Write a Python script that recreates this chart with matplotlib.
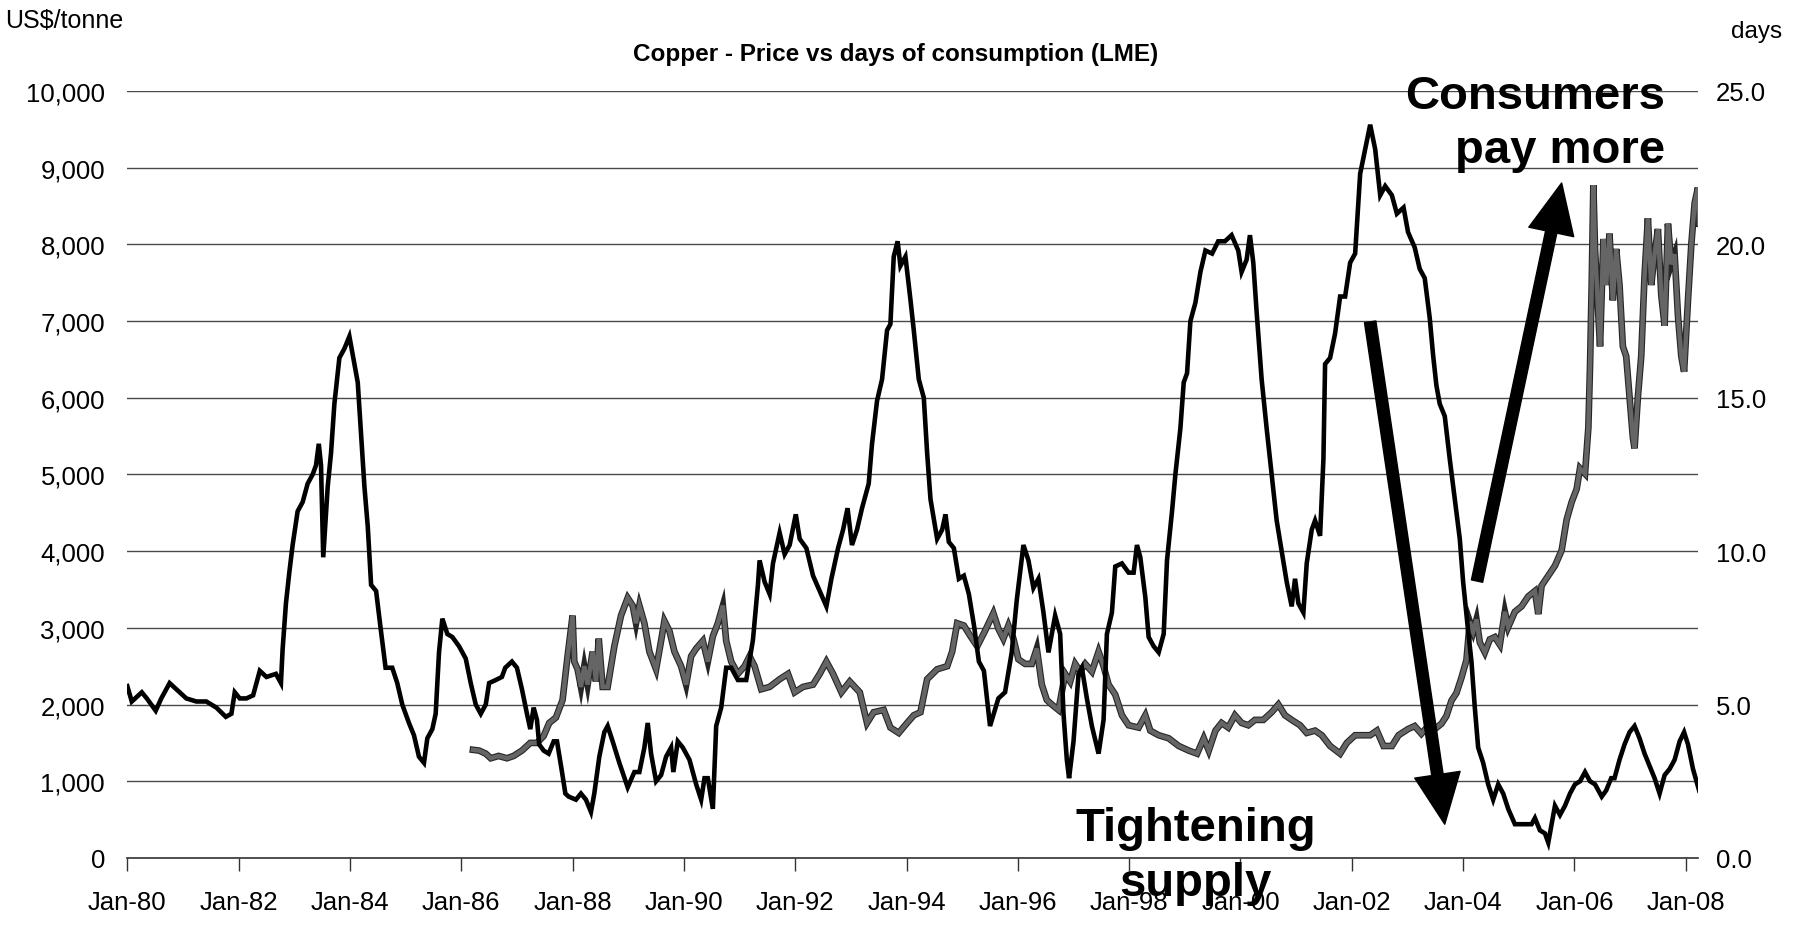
import matplotlib
matplotlib.use("Agg")
import matplotlib.pyplot as plt
import matplotlib.patheffects as pe
from matplotlib.ticker import FuncFormatter

# LME copper price, US$/tonne (grey line, left axis)
price_t = [1986.21, 1986.32, 1986.44, 1986.53, 1986.67, 1986.82, 1986.94, 1987.09, 1987.24, 1987.36,
           1987.48, 1987.58, 1987.70, 1987.82, 1987.91, 1988.00, 1988.03, 1988.09, 1988.15, 1988.21,
           1988.27, 1988.36, 1988.42, 1988.47, 1988.54, 1988.63, 1988.75, 1988.87, 1988.99, 1989.08,
           1989.14, 1989.20, 1989.29, 1989.38, 1989.50, 1989.59, 1989.65, 1989.74, 1989.83, 1989.95,
           1990.04, 1990.13, 1990.22, 1990.34, 1990.43, 1990.52, 1990.61, 1990.70, 1990.76, 1990.85,
           1990.97, 1991.09, 1991.18, 1991.27, 1991.39, 1991.54, 1991.72, 1991.87, 1991.99, 1992.14,
           1992.32, 1992.44, 1992.56, 1992.68, 1992.83, 1992.98, 1993.16, 1993.29, 1993.41, 1993.59,
           1993.71, 1993.86, 1994.01, 1994.13, 1994.25, 1994.37, 1994.55, 1994.73, 1994.82, 1994.91,
           1995.03, 1995.15, 1995.27, 1995.41, 1995.56, 1995.65, 1995.74, 1995.83, 1995.92, 1996.01,
           1996.13, 1996.25, 1996.34, 1996.43, 1996.52, 1996.61, 1996.73, 1996.85, 1996.94, 1997.03,
           1997.12, 1997.21, 1997.33, 1997.45, 1997.54, 1997.63, 1997.75, 1997.87, 1997.99, 1998.17,
           1998.29, 1998.38, 1998.53, 1998.71, 1998.89, 1999.07, 1999.22, 1999.34, 1999.43, 1999.55,
           1999.66, 1999.78, 1999.90, 2000.02, 2000.14, 2000.26, 2000.41, 2000.56, 2000.68, 2000.80,
           2000.92, 2001.07, 2001.19, 2001.34, 2001.46, 2001.61, 2001.79, 2001.91, 2002.06, 2002.21,
           2002.33, 2002.45, 2002.57, 2002.72, 2002.84, 2003.01, 2003.13, 2003.25, 2003.37, 2003.49,
           2003.61, 2003.70, 2003.79, 2003.88, 2003.97, 2004.06, 2004.12, 2004.18, 2004.24, 2004.30,
           2004.39, 2004.48, 2004.57, 2004.66, 2004.75, 2004.81, 2004.93, 2005.05, 2005.17, 2005.29,
           2005.35, 2005.41, 2005.53, 2005.65, 2005.77, 2005.86, 2005.95, 2006.04, 2006.10, 2006.19,
           2006.25, 2006.28, 2006.31, 2006.34, 2006.37, 2006.43, 2006.46, 2006.52, 2006.57, 2006.63,
           2006.69, 2006.75, 2006.81, 2006.87, 2006.93, 2006.99, 2007.05, 2007.08, 2007.14, 2007.20,
           2007.26, 2007.32, 2007.38, 2007.44, 2007.50, 2007.56, 2007.62, 2007.68, 2007.74, 2007.80,
           2007.86, 2007.92, 2007.97, 2008.04, 2008.10, 2008.16, 2008.22, 2008.24]
price = [1410, 1400, 1360, 1300, 1330, 1300, 1330, 1400, 1500, 1500,
         1590, 1760, 1830, 2060, 2630, 3160, 2560, 2460, 2230, 2500,
         2260, 2690, 2300, 2860, 2230, 2230, 2760, 3160, 3390, 3290,
         3060, 3290, 3060, 2690, 2460, 2830, 3090, 2960, 2690, 2500,
         2260, 2630, 2730, 2830, 2560, 2890, 3060, 3290, 2830, 2560,
         2400, 2500, 2630, 2500, 2200, 2230, 2330, 2400, 2160, 2230,
         2260, 2400, 2560, 2400, 2160, 2300, 2160, 1760, 1900, 1930,
         1700, 1630, 1760, 1860, 1900, 2330, 2460, 2500, 2690, 3060,
         3030, 2890, 2760, 2960, 3190, 2990, 2860, 3030, 2860, 2590,
         2530, 2530, 2730, 2260, 2060, 2000, 1930, 2400, 2300, 2530,
         2430, 2530, 2430, 2690, 2500, 2260, 2130, 1860, 1730, 1700,
         1860, 1660, 1600, 1560, 1460, 1400, 1360, 1560, 1400, 1660,
         1760, 1700, 1860, 1760, 1730, 1800, 1800, 1900, 2000, 1860,
         1800, 1730, 1630, 1660, 1600, 1460, 1360, 1500, 1600, 1600,
         1600, 1660, 1460, 1460, 1600, 1680, 1720, 1620, 1720, 1680,
         1750, 1850, 2050, 2150, 2350, 2580, 3080, 2950, 3110, 2810,
         2680, 2850, 2880, 2780, 3210, 3010, 3210, 3280, 3410, 3480,
         3180, 3550, 3680, 3810, 4010, 4410, 4640, 4810, 5080, 5010,
         5610, 6410, 7470, 8770, 7940, 7070, 6670, 8070, 7470, 8140,
         7270, 7940, 7470, 6670, 6540, 6010, 5480, 5340, 6010, 6540,
         7600, 8340, 7470, 7870, 8200, 7340, 6940, 8270, 7740, 7870,
         7070, 6540, 6340, 7270, 8000, 8540, 8740, 8270]

# LME stocks in days of consumption (black line, right axis)
days_t = [1980.00, 1980.08, 1980.26, 1980.35, 1980.51, 1980.61, 1980.76, 1980.94, 1981.06, 1981.24,
          1981.42, 1981.60, 1981.77, 1981.87, 1981.93, 1982.02, 1982.14, 1982.26, 1982.38, 1982.50,
          1982.67, 1982.76, 1982.79, 1982.85, 1982.91, 1982.97, 1983.06, 1983.15, 1983.24, 1983.33,
          1983.39, 1983.44, 1983.48, 1983.52, 1983.60, 1983.66, 1983.72, 1983.81, 1983.90, 1983.99,
          1984.05, 1984.14, 1984.20, 1984.26, 1984.32, 1984.38, 1984.47, 1984.55, 1984.64, 1984.76,
          1984.85, 1984.94, 1985.06, 1985.15, 1985.24, 1985.33, 1985.39, 1985.48, 1985.54, 1985.60,
          1985.66, 1985.75, 1985.84, 1985.96, 1986.08, 1986.17, 1986.26, 1986.35, 1986.44, 1986.50,
          1986.62, 1986.73, 1986.79, 1986.91, 1987.00, 1987.09, 1987.18, 1987.24, 1987.30, 1987.36,
          1987.40, 1987.48, 1987.57, 1987.66, 1987.72, 1987.81, 1987.87, 1987.93, 1988.06, 1988.15,
          1988.24, 1988.33, 1988.39, 1988.48, 1988.57, 1988.63, 1988.72, 1988.84, 1988.99, 1989.11,
          1989.20, 1989.29, 1989.35, 1989.41, 1989.50, 1989.59, 1989.68, 1989.77, 1989.81, 1989.89,
          1989.98, 1990.10, 1990.22, 1990.31, 1990.37, 1990.43, 1990.52, 1990.58, 1990.67, 1990.76,
          1990.85, 1990.97, 1991.12, 1991.24, 1991.33, 1991.36, 1991.45, 1991.54, 1991.60, 1991.72,
          1991.81, 1991.90, 1992.01, 1992.08, 1992.20, 1992.32, 1992.44, 1992.56, 1992.65, 1992.77,
          1992.86, 1992.94, 1993.02, 1993.11, 1993.20, 1993.32, 1993.38, 1993.47, 1993.56, 1993.65,
          1993.71, 1993.77, 1993.84, 1993.89, 1993.98, 1994.07, 1994.13, 1994.22, 1994.31, 1994.37,
          1994.43, 1994.55, 1994.64, 1994.70, 1994.76, 1994.85, 1994.94, 1995.03, 1995.12, 1995.21,
          1995.30, 1995.39, 1995.50, 1995.65, 1995.77, 1995.89, 1995.98, 1996.10, 1996.19, 1996.28,
          1996.37, 1996.46, 1996.55, 1996.61, 1996.67, 1996.76, 1996.82, 1996.88, 1996.92, 1997.00,
          1997.09, 1997.15, 1997.24, 1997.33, 1997.45, 1997.54, 1997.60, 1997.69, 1997.75, 1997.87,
          1997.99, 1998.08, 1998.14, 1998.20, 1998.29, 1998.35, 1998.44, 1998.53, 1998.62, 1998.68,
          1998.77, 1998.83, 1998.92, 1998.98, 1999.04, 1999.10, 1999.19, 1999.28, 1999.37, 1999.49,
          1999.60, 1999.72, 1999.84, 1999.96, 2000.02, 2000.11, 2000.17, 2000.23, 2000.29, 2000.38,
          2000.47, 2000.56, 2000.65, 2000.74, 2000.83, 2000.92, 2000.98, 2001.04, 2001.13, 2001.19,
          2001.28, 2001.34, 2001.43, 2001.49, 2001.52, 2001.61, 2001.70, 2001.79, 2001.88, 2001.97,
          2002.06, 2002.15, 2002.24, 2002.33, 2002.42, 2002.51, 2002.60, 2002.72, 2002.81, 2002.93,
          2003.01, 2003.13, 2003.22, 2003.31, 2003.40, 2003.46, 2003.52, 2003.58, 2003.67, 2003.76,
          2003.85, 2003.94, 2004.00, 2004.09, 2004.15, 2004.21, 2004.27, 2004.36, 2004.45, 2004.54,
          2004.63, 2004.72, 2004.81, 2004.93, 2005.05, 2005.14, 2005.23, 2005.29, 2005.38, 2005.47,
          2005.53, 2005.59, 2005.65, 2005.74, 2005.83, 2005.92, 2006.01, 2006.10, 2006.19, 2006.28,
          2006.37, 2006.49, 2006.57, 2006.66, 2006.72, 2006.81, 2006.90, 2006.99, 2007.08, 2007.17,
          2007.26, 2007.35, 2007.44, 2007.53, 2007.62, 2007.71, 2007.80, 2007.89, 2007.97, 2008.04,
          2008.13, 2008.24]
days = [5.6, 5.1, 5.4, 5.2, 4.8, 5.2, 5.7, 5.4, 5.2, 5.1,
        5.1, 4.9, 4.6, 4.7, 5.4, 5.2, 5.2, 5.3, 6.1, 5.9,
        6.0, 5.7, 6.8, 8.3, 9.3, 10.2, 11.3, 11.6, 12.2, 12.5,
        12.8, 13.5, 12.8, 9.8, 12.1, 13.2, 14.8, 16.3, 16.6, 17.0,
        16.4, 15.5, 13.8, 12.1, 10.8, 8.9, 8.7, 7.5, 6.2, 6.2,
        5.7, 5.0, 4.4, 4.0, 3.3, 3.1, 3.9, 4.2, 4.7, 6.7,
        7.8, 7.3, 7.2, 6.9, 6.5, 5.7, 5.0, 4.7, 5.0, 5.7,
        5.8, 5.9, 6.2, 6.4, 6.2, 5.5, 4.7, 4.2, 4.9, 4.5,
        3.7, 3.5, 3.4, 3.8, 3.8, 2.8, 2.1, 2.0, 1.9, 2.1,
        1.9, 1.5, 2.1, 3.3, 4.1, 4.3, 3.8, 3.1, 2.3, 2.8,
        2.8, 3.6, 4.4, 3.4, 2.5, 2.7, 3.3, 3.6, 2.8, 3.8,
        3.6, 3.2, 2.4, 1.9, 2.6, 2.6, 1.6, 4.3, 4.9, 6.2,
        6.2, 5.8, 5.8, 7.1, 8.9, 9.7, 9.0, 8.6, 9.6, 10.6,
        9.9, 10.2, 11.2, 10.4, 10.1, 9.2, 8.7, 8.2, 9.1, 10.1,
        10.7, 11.4, 10.2, 10.7, 11.4, 12.2, 13.5, 14.9, 15.6, 17.2,
        17.4, 19.6, 20.1, 19.3, 19.6, 18.2, 17.2, 15.6, 15.0, 13.2,
        11.7, 10.4, 10.7, 11.2, 10.3, 10.1, 9.1, 9.2, 8.6, 7.6,
        6.4, 6.1, 4.3, 5.2, 5.4, 6.7, 8.4, 10.2, 9.7, 8.8,
        9.1, 8.0, 6.7, 7.3, 7.9, 7.3, 4.7, 3.2, 2.6, 3.8,
        6.0, 6.2, 5.2, 4.3, 3.4, 4.5, 7.3, 8.0, 9.5, 9.6,
        9.3, 9.3, 10.2, 9.8, 8.5, 7.2, 6.9, 6.7, 7.3, 9.7,
        11.3, 12.5, 14.0, 15.5, 15.8, 17.5, 18.1, 19.1, 19.8, 19.7,
        20.1, 20.1, 20.3, 19.8, 19.1, 19.5, 20.3, 19.4, 17.8, 15.6,
        14.0, 12.5, 11.0, 10.0, 9.0, 8.2, 9.1, 8.3, 8.0, 9.6,
        10.7, 11.0, 10.5, 13.0, 16.1, 16.3, 17.1, 18.3, 18.3, 19.4,
        19.7, 22.3, 23.1, 23.9, 23.1, 21.6, 21.9, 21.6, 21.0, 21.2,
        20.4, 19.9, 19.2, 18.9, 17.6, 16.4, 15.4, 14.8, 14.4, 13.0,
        11.7, 10.4, 9.0, 7.4, 6.4, 4.9, 3.6, 3.1, 2.4, 1.9,
        2.4, 2.1, 1.6, 1.1, 1.1, 1.1, 1.1, 1.3, 0.9, 0.8,
        0.5, 1.1, 1.7, 1.4, 1.7, 2.1, 2.4, 2.5, 2.8, 2.5,
        2.4, 2.0, 2.2, 2.6, 2.6, 3.2, 3.7, 4.1, 4.3, 3.9,
        3.4, 3.0, 2.6, 2.1, 2.7, 2.9, 3.2, 3.8, 4.1, 3.7,
        2.9, 2.2]

xtick_years = list(range(1980, 2009, 2))
xtick_labels = ["Jan-%02d" % (y % 100) for y in xtick_years]

font = ["Liberation Sans", "DejaVu Sans"]

fig = plt.figure(figsize=(18.06, 9.28), dpi=100)
ax = fig.add_axes([0.0705, 0.0744, 0.8697, 0.8265])
ax2 = ax.twinx()

ax.plot(price_t, price, color="#656565", lw=3.2, solid_joinstyle="miter",
        path_effects=[pe.Stroke(linewidth=4.8, foreground="#262626"), pe.Normal()])
ax2.plot(days_t, days, color="black", lw=3.3, solid_joinstyle="miter")

ax.set_xlim(1980, 2008.22)
ax.set_ylim(0, 10000)
ax2.set_ylim(0, 25)
ax.set_yticks(range(0, 10001, 1000))
ax2.set_yticks([0, 5, 10, 15, 20, 25])
ax.yaxis.set_major_formatter(FuncFormatter(lambda v, p: "{:,.0f}".format(v)))
ax2.yaxis.set_major_formatter(FuncFormatter(lambda v, p: "%.1f" % v))
ax.set_xticks(xtick_years)
ax.set_xticklabels(xtick_labels)

for a in (ax, ax2):
    for s in ("top", "left", "right", "bottom"):
        a.spines[s].set_visible(False)
ax.spines["bottom"].set_visible(True)
ax.spines["bottom"].set_color("#333333")
ax.spines["bottom"].set_linewidth(1.2)

ax.grid(axis="y", color="#4a4a4a", lw=1.0)
ax.set_axisbelow(True)
ax.tick_params(axis="x", direction="out", length=9, width=1, color="#333333", pad=14)
ax.tick_params(axis="y", length=0, pad=16)
ax2.tick_params(axis="y", length=0, pad=13)
for lab in ax.get_xticklabels() + ax.get_yticklabels() + ax2.get_yticklabels():
    lab.set_family(font)
    lab.set_fontsize(18.5)

fig.text(0.003, 0.977, "US$/tonne", family=font, fontsize=18, ha="left", va="center")
fig.text(0.987, 0.966, "days", family=font, fontsize=17.5, ha="right", va="center")
fig.text(0.496, 0.941, "Copper - Price vs days of consumption (LME)", family=font,
         fontsize=17.5, fontweight="bold", ha="center", va="center")

# annotation arrows, in price-axis coordinates
arrow = dict(arrowstyle="simple,head_length=2.4,head_width=2.2,tail_width=0.55",
             color="black", mutation_scale=15, shrinkA=0, shrinkB=0)
ax.annotate("", xy=(2003.67, 440), xytext=(2002.33, 6990), arrowprops=arrow, zorder=6)
ax.annotate("", xy=(2005.77, 8800), xytext=(2004.25, 3610), arrowprops=arrow, zorder=6)

fig.text(0.922, 0.866, "Consumers\npay more", family=font, fontsize=34, fontweight="heavy",
         ha="right", va="center", multialignment="right", linespacing=1.3, zorder=7)
fig.text(0.662, 0.077, "Tightening\nsupply", family=font, fontsize=34, fontweight="heavy",
         ha="center", va="center", multialignment="center", linespacing=1.35, zorder=7)

fig.savefig("out.png", dpi=100)
